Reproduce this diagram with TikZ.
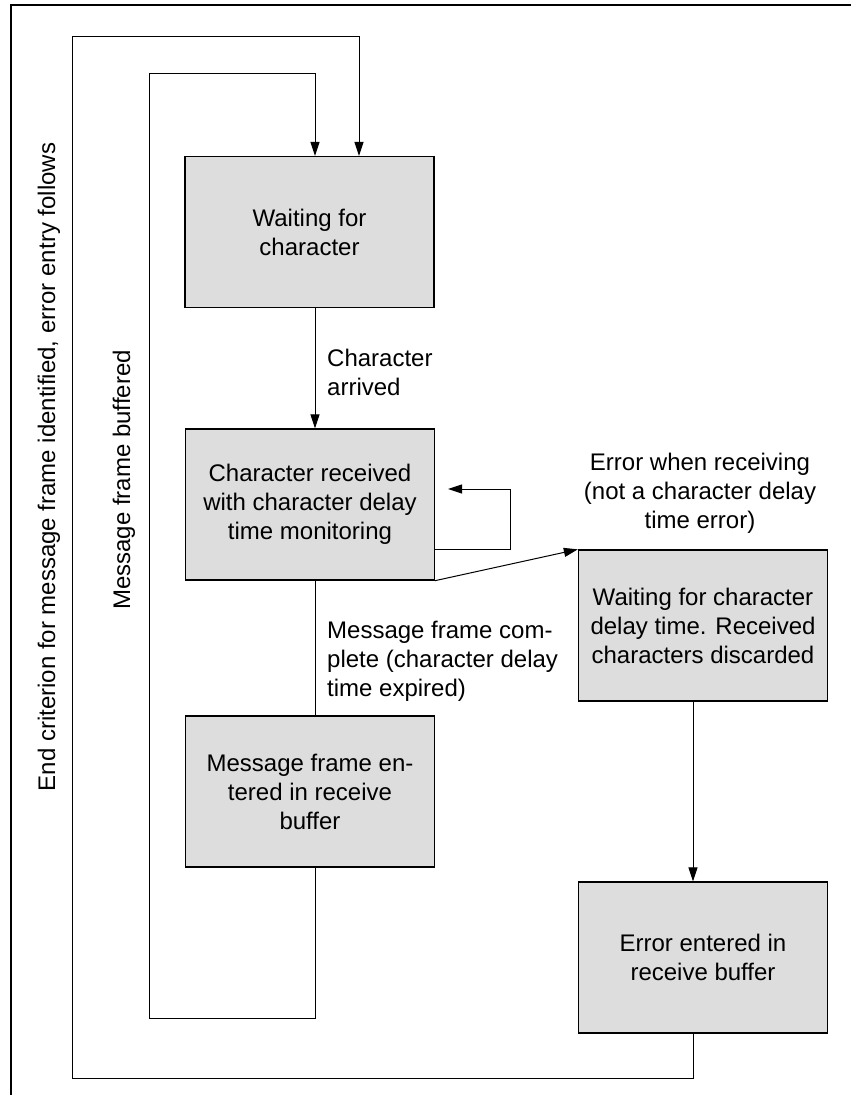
\documentclass[tikz,border=0pt]{standalone}
\usepackage{fontspec}
\setmainfont{Liberation Sans}
\usetikzlibrary{arrows.meta,calc}
\definecolor{boxgray}{RGB}{221,221,221}
\begin{document}
\begin{tikzpicture}[x=1pt,y=-1pt,
  state/.style={draw=black,fill=boxgray,line width=1.3pt,minimum width=249pt,minimum height=151pt,inner sep=0pt,align=center,font=\fontsize{24}{29}\selectfont},
  lbl/.style={inner sep=0pt,font=\fontsize{24}{29}\selectfont},
  conn/.style={draw=black,line width=1pt},
  arr/.style={conn,-{Triangle[length=14pt,width=9pt]}}]
\useasboundingbox (0,0) rectangle (851,1095);
% outer frame
\coordinate (fr) at (851,5);
\coordinate (fl) at (11,1095);
\draw[line width=1.5pt] (fr) -- (11,5) -- (fl);
% states
\node[state] (s1) at (309.5,232) {Waiting for\\character};
\node[state] (s2) at (310,504.5) {Character received\\with character delay\\time monitoring};
\node[state] (s4) at (310,791.5) {Message frame en-\\tered in receive\\buffer};
\node[state] (s3) at (703,625.5) {Waiting for character\\delay time. Received\\characters discarded};
\node[state] (s5) at (703,957.5) {Error entered in\\receive buffer};
% x positions
\coordinate (xa) at (315,0);
\coordinate (xb) at (359,0);
\coordinate (xc) at (693,0);
% transitions
\draw[arr] (s1.south -| xa) -- (s2.north -| xa);
\draw[conn] (s2.south -| xa) -- (s4.north -| xa);
\coordinate (selfend) at (448,489);
\draw[arr] (s2.east |- 0,549) -- (510,549) -- (510,489) -- (selfend);
\draw[arr] (s2.south east) -- (s3.north west);
\draw[arr] (s3.south -| xc) -- (s5.north -| xc);
% return loops
\draw[arr] (s4.south -| xa) -- (315,1018) -- (149,1018) -- (149,73) -- (315,73) -- (s1.north -| xa);
\draw[arr] (s5.south -| xc) -- (693,1078) -- (72,1078) -- (72,36) -- (359,36) -- (s1.north -| xb);
% labels
\node[lbl,anchor=west,align=left] (l1) at (327,372) {Character\\arrived};
\node[lbl,anchor=west,align=left] (l2) at (327,661) {Message frame com-\\plete (character delay\\time expired)};
\node[lbl,align=center] (l3) at (700,493) {Error when receiving\\(not a character delay\\time error)};
\node[lbl,rotate=90] (l4) at (124,480) {Message frame buffered};
\node[lbl,rotate=90] (l5) at (49,467) {End criterion for message frame identified, error entry follows};
\end{tikzpicture}
\end{document}
